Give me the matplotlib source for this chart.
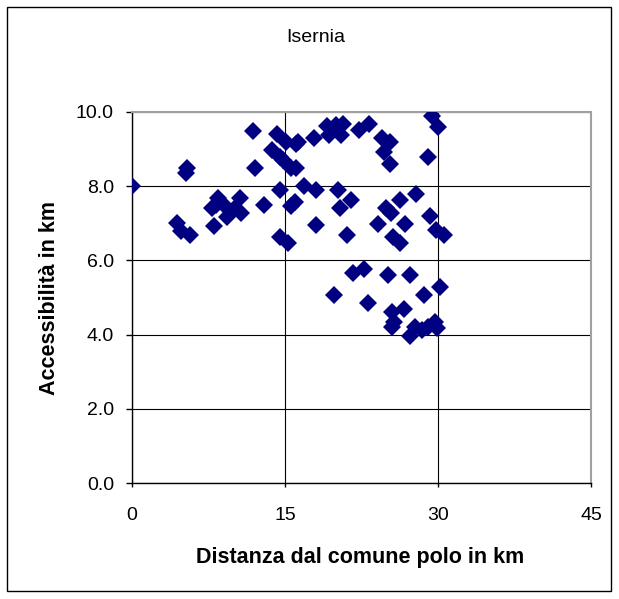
import matplotlib
matplotlib.use("Agg")
import matplotlib.pyplot as plt
from matplotlib.patches import Rectangle

# distance from the pole town (km) and accessibility (km)
distanza = [0, 4.4, 4.85, 5.67, 5.25, 5.35, 7.8, 8.0, 8.2, 8.4,
            8.95, 9.3, 10.1, 10.57, 10.7, 11.9, 12.1, 12.9, 13.7, 14.2,
            14.5, 14.8, 14.5, 14.5, 15.3, 15.05, 15.6, 16.1, 16.1, 16.3,
            15.6, 15.97, 16.85, 17.8, 18.0, 18.0, 19.1, 19.3, 19.96, 20.5,
            20.7, 20.15, 20.4, 19.8, 21.1, 21.5, 21.7, 22.3, 23.2, 22.7,
            23.1, 24.1, 24.5, 24.7, 25.3, 25.3, 24.95, 25.4, 25.6, 26.3,
            26.3, 25.05, 25.45, 25.7, 25.45, 26.65, 26.8, 27.25, 27.8, 27.25,
            27.7, 28.4, 28.6, 29.0, 29.2, 29.4, 30.0, 29.8, 30.6, 30.2,
            29.0, 29.7, 29.9]
accessibilita = [8.0, 7.0, 6.8, 6.69, 8.36, 8.48, 7.4, 6.92, 7.5, 7.67,
                 7.53, 7.17, 7.4, 7.68, 7.29, 9.5, 8.48, 7.5, 8.97, 9.4,
                 8.8, 8.7, 7.9, 6.63, 6.48, 9.2, 8.5, 8.5, 9.15, 9.2,
                 7.46, 7.58, 8.0, 9.29, 7.89, 6.95, 9.62, 9.38, 9.65, 9.38,
                 9.68, 7.89, 7.4, 5.07, 6.69, 7.62, 5.67, 9.51, 9.68, 5.78,
                 4.84, 6.99, 9.3, 8.93, 9.18, 8.59, 7.4, 7.28, 6.63, 6.47,
                 7.62, 5.61, 4.6, 4.33, 4.2, 4.69, 6.99, 5.61, 7.78, 3.97,
                 4.2, 4.13, 5.07, 8.8, 7.19, 9.9, 9.6, 6.81, 6.69, 5.28,
                 4.2, 4.33, 4.18]

x_ticks = [0, 15, 30, 45]
y_ticks = [0, 2, 4, 6, 8, 10]

plt.rcParams['font.family'] = ['Liberation Sans', 'DejaVu Sans']

fig = plt.figure(figsize=(6.19, 5.99), dpi=100)
ax = fig.add_axes([132/619, 116/599, 459/619, 371/599])

ax.plot(distanza, accessibilita, linestyle='none', marker='D',
        markersize=9.5, color='#000080', markeredgewidth=0, zorder=3)

ax.set_xlim(0, 45)
ax.set_ylim(0, 10)
ax.set_xticks(x_ticks)
ax.set_yticks(y_ticks)
ax.set_yticklabels(["%.1f" % v for v in y_ticks])
ax.grid(True, color='black', linewidth=0.8)
ax.set_axisbelow(True)

for s in ['top', 'right']:
    ax.spines[s].set_color('#a0a0a0')
    ax.spines[s].set_linewidth(1.5)
for s in ['left', 'bottom']:
    ax.spines[s].set_color('black')
    ax.spines[s].set_linewidth(1.0)

ax.tick_params(axis='x', direction='out', length=3, width=1, pad=14, labelsize=14)
ax.tick_params(axis='y', direction='out', length=4, width=1, pad=9, labelsize=14)

fig.text(316/619, 1 - 37/599, "Isernia", ha='center', va='center', fontsize=14)
fig.text(360/619, 1 - 558/599, "Distanza dal comune polo in km",
         ha='center', va='center', fontsize=15.5, fontweight='bold')
fig.text(50/619, 1 - 298/599, "Accessibilità in km", rotation=90,
         ha='center', va='center', fontsize=15.5, fontweight='bold')

# outer chart border
fig.patches.append(Rectangle((7/619, 8/599), 604/619, 584/599,
                             transform=fig.transFigure, fill=False,
                             edgecolor='black', linewidth=1))

fig.savefig("out.png", dpi=100)
